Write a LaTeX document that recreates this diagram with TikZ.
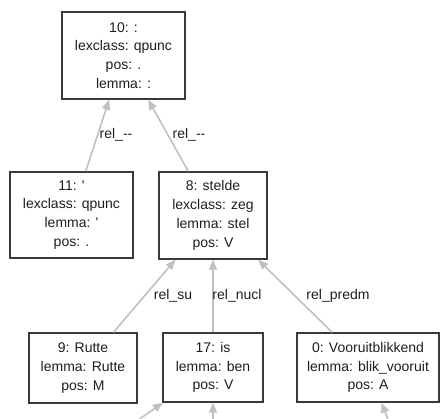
\documentclass[tikz,border=0pt]{standalone}
\usepackage{fontspec}
% plain quotes and hyphens, as typed
\setmainfont{Liberation Sans}[Ligatures=TeXOff]
\usetikzlibrary{arrows.meta}
\definecolor{boxline}{HTML}{3A3A3A}
\definecolor{edgegray}{HTML}{C0C0C0}
\definecolor{ink}{HTML}{1E1E1E}
\begin{document}
\begin{tikzpicture}[x=1pt,y=1pt,
  tok/.style={draw=boxline, line width=1.4pt, rectangle, align=center,
    inner sep=0pt, text=ink, font=\fontsize{14}{18.8}\selectfont},
  dep/.style={draw=edgegray, line width=1.6pt,
    -{Triangle[length=10pt,width=8pt,fill=edgegray]}},
  rel/.style={text=ink, font=\fontsize{14}{16}\selectfont, inner sep=0pt}]
\useasboundingbox (0,0) rectangle (440,-419);

% tokens
\node[tok, minimum width=123pt, minimum height=87pt] (n10) at (123.5,-55.5)
  {10: :\\lexclass: qpunc\\pos: .\\lemma: :};
\node[tok, minimum width=123pt, minimum height=86pt] (n11) at (71.5,-215)
  {11: '\\lexclass: qpunc\\lemma: '\\pos: .};
\node[tok, minimum width=108pt, minimum height=87pt] (n8) at (213,-215.5)
  {8: stelde\\lexclass: zeg\\lemma: stel\\pos: V};
\node[tok, minimum width=108pt, minimum height=70pt] (n9) at (83,-368)
  {9: Rutte\\lemma: Rutte\\pos: M};
\node[tok, minimum width=100pt, minimum height=69pt] (n17) at (213,-367.5)
  {17: is\\lemma: ben\\pos: V};
\node[tok, minimum width=142pt, minimum height=69pt] (n0) at (368,-367.5)
  {0: Vooruitblikkend\\lemma: blik\_vooruit\\pos: A};

% loose ends of dependents lying below the drawing
\coordinate (b1) at (124,-430);
\coordinate (b2) at (213,-430);
\coordinate (b3) at (392,-430);

% dependency arcs
\draw[dep] (n11) -- (n10);
\draw[dep] (n8) -- (n10);
\draw[dep] (n9) -- (n8);
\draw[dep] (n17) -- (n8);
\draw[dep] (n0) -- (n8);
\draw[dep] (b1) -- (n17);
\draw[dep] (b2) -- (n17);
\draw[dep] (b3) -- (n0);

% relation labels
\node[rel] (l1) at (116,-135) {rel\_--};
\node[rel] (l2) at (189,-135) {rel\_--};
\node[rel] (l3) at (173,-296) {rel\_su};
\node[rel] (l4) at (237,-296) {rel\_nucl};
\node[rel] (l5) at (338,-296) {rel\_predm};
\end{tikzpicture}
\end{document}
